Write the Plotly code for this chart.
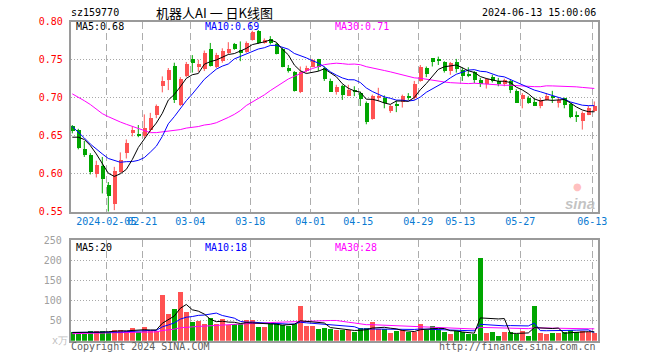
import plotly.graph_objects as go
import pandas as pd

# ---------------- data ----------------
tick_idx = [6, 12, 20, 30, 40, 48, 58, 65, 75, 87]
tick_text = ["2024-02-05", "02-21", "03-04", "03-18", "04-01", "04-15",
             "04-29", "05-13", "05-27", "06-13"]

opens = [0.663, 0.658, 0.633, 0.625, 0.600, 0.611, 0.585, 0.560, 0.603, 0.628,
         0.654, 0.651, 0.650, 0.658, 0.677, 0.716, 0.724, 0.742, 0.691, 0.729,
         0.751, 0.741, 0.738, 0.764, 0.741, 0.749, 0.759, 0.771, 0.763, 0.760,
         0.776, 0.788, 0.773, 0.778, 0.771, 0.764, 0.740, 0.734, 0.708, 0.735,
         0.741, 0.751, 0.740, 0.722, 0.708, 0.716, 0.703, 0.711, 0.706, 0.694,
         0.672, 0.700, 0.700, 0.683, 0.692, 0.695, 0.702, 0.700, 0.722, 0.740,
         0.752, 0.750, 0.747, 0.735, 0.748, 0.737, 0.731, 0.734, 0.724, 0.718,
         0.728, 0.722, 0.719, 0.722, 0.709, 0.699, 0.700, 0.695, 0.689, 0.697,
         0.703, 0.693, 0.700, 0.692, 0.677, 0.670, 0.678, 0.683]
highs = [0.664, 0.659, 0.643, 0.627, 0.617, 0.622, 0.589, 0.609, 0.628, 0.645,
         0.662, 0.664, 0.678, 0.680, 0.691, 0.728, 0.739, 0.746, 0.727, 0.747,
         0.756, 0.750, 0.762, 0.772, 0.759, 0.765, 0.773, 0.772, 0.774, 0.774,
         0.788, 0.789, 0.778, 0.781, 0.772, 0.766, 0.743, 0.735, 0.741, 0.742,
         0.751, 0.751, 0.741, 0.725, 0.717, 0.717, 0.717, 0.715, 0.708, 0.695,
         0.704, 0.713, 0.703, 0.691, 0.696, 0.704, 0.706, 0.722, 0.743, 0.741,
         0.752, 0.754, 0.748, 0.747, 0.751, 0.740, 0.740, 0.735, 0.726, 0.726,
         0.730, 0.726, 0.725, 0.724, 0.711, 0.706, 0.702, 0.700, 0.700, 0.706,
         0.709, 0.700, 0.700, 0.693, 0.682, 0.682, 0.689, 0.695]
lows = [0.653, 0.632, 0.622, 0.599, 0.595, 0.574, 0.550, 0.552, 0.601, 0.620,
        0.649, 0.648, 0.647, 0.655, 0.673, 0.707, 0.710, 0.693, 0.689, 0.727,
        0.733, 0.734, 0.735, 0.741, 0.739, 0.746, 0.757, 0.763, 0.748, 0.759,
        0.775, 0.771, 0.771, 0.770, 0.757, 0.740, 0.733, 0.708, 0.706, 0.733,
        0.740, 0.735, 0.722, 0.708, 0.704, 0.697, 0.702, 0.702, 0.689, 0.665,
        0.671, 0.695, 0.686, 0.680, 0.681, 0.687, 0.697, 0.697, 0.721, 0.727,
        0.741, 0.743, 0.733, 0.730, 0.733, 0.722, 0.727, 0.719, 0.714, 0.712,
        0.720, 0.715, 0.715, 0.706, 0.693, 0.686, 0.692, 0.689, 0.686, 0.696,
        0.693, 0.687, 0.686, 0.673, 0.668, 0.658, 0.677, 0.681]
closes = [0.657, 0.634, 0.625, 0.602, 0.612, 0.593, 0.571, 0.604, 0.619, 0.641,
          0.658, 0.650, 0.661, 0.674, 0.690, 0.722, 0.737, 0.698, 0.725, 0.745,
          0.746, 0.745, 0.759, 0.742, 0.756, 0.762, 0.765, 0.765, 0.759, 0.773,
          0.787, 0.772, 0.776, 0.772, 0.758, 0.741, 0.735, 0.709, 0.734, 0.740,
          0.750, 0.741, 0.725, 0.708, 0.714, 0.704, 0.711, 0.708, 0.699, 0.668,
          0.703, 0.702, 0.693, 0.690, 0.690, 0.703, 0.700, 0.718, 0.741, 0.731,
          0.747, 0.749, 0.735, 0.746, 0.738, 0.729, 0.729, 0.724, 0.719, 0.725,
          0.722, 0.718, 0.724, 0.711, 0.694, 0.704, 0.693, 0.690, 0.697, 0.702,
          0.700, 0.698, 0.691, 0.675, 0.675, 0.680, 0.687, 0.690]
# candle colour flag (1 = rising / red, 0 = falling / green)
rising = [0, 0, 0, 0, 1, 0, 0, 1, 1, 1, 1, 0, 1, 1, 1, 1, 1, 0, 1, 1,
          0, 1, 1, 0, 1, 1, 1, 0, 0, 1, 1, 0, 1, 0, 0, 0, 0, 0, 1, 1,
          1, 0, 0, 0, 1, 0, 1, 0, 0, 0, 1, 1, 0, 1, 0, 1, 0, 1, 1, 0,
          0, 0, 0, 1, 0, 0, 0, 0, 0, 1, 0, 0, 1, 0, 0, 1, 0, 0, 1, 1,
          0, 1, 0, 0, 0, 1, 1, 1]
volumes = [20, 15, 17, 24, 24, 24, 20, 26, 26, 24,
           30, 20, 34, 23, 24, 113, 66, 78, 120, 71,
           47, 49, 42, 56, 40, 53, 38, 40, 40, 50,
           50, 34, 34, 42, 43, 38, 37, 42, 85, 35,
           37, 29, 32, 28, 25, 25, 25, 22, 30, 32,
           46, 28, 28, 19, 24, 26, 20, 22, 42, 26,
           36, 25, 20, 15, 24, 22, 15, 15, 205, 18,
           20, 10, 20, 22, 16, 24, 12, 86, 18, 15,
           18, 18, 20, 26, 20, 24, 20, 18]

ma5_head = [0.648, 0.648, 0.645, 0.637]
ma10_head = [0.662, 0.655, 0.647, 0.639, 0.632, 0.626, 0.620, 0.617, 0.615]
ma30_head = [0.705, 0.701, 0.696, 0.691, 0.685, 0.679, 0.675, 0.671, 0.668, 0.665,
             0.662, 0.659, 0.656, 0.654, 0.654, 0.655, 0.656, 0.657, 0.658, 0.660,
             0.661, 0.662, 0.664, 0.665, 0.667, 0.670, 0.674, 0.678, 0.683]
vma5_head = [20, 20, 19, 20]
vma10_head = [20, 20, 20, 20, 20, 20, 20.5, 21, 21]
vma30_head = [17, 17, 17.5, 18, 18.5, 18.5, 19, 19.5, 20, 20,
              20.5, 21, 21, 21.5, 21.5, 24.8, 26.3, 28.2, 31.5, 33.2,
              34.1, 35.1, 35.8, 37, 37.7, 38.8, 39.4, 40.1, 40.8]

# ---------------- helpers ----------------
RED = "#FF5252"
GREEN = "#00A600"
n = len(closes)
idx = list(range(n))


def moving(series, window, head):
    s = pd.Series(series, dtype=float).rolling(window).mean().tolist()
    s[:len(head)] = head
    return s


ma5 = moving(closes, 5, ma5_head)
ma10 = moving(closes, 10, ma10_head)
ma30 = moving(closes, 30, ma30_head)
vma5 = moving(volumes, 5, vma5_head)
vma10 = moving(volumes, 10, vma10_head)
vma30 = moving(volumes, 30, vma30_head)

colors = [RED if r else GREEN for r in rising]
body_base = [min(o, c) for o, c in zip(opens, closes)]
body_h = [max(abs(c - o), 0.0014) for o, c in zip(opens, closes)]

fig = go.Figure()

# wicks
for flag, col in ((1, RED), (0, GREEN)):
    wx, wy = [], []
    for i in idx:
        if rising[i] == flag:
            wx += [i, i, None]
            wy += [lows[i], highs[i], None]
    fig.add_trace(go.Scatter(x=wx, y=wy, mode="lines", line=dict(color=col, width=1),
                             hoverinfo="skip", xaxis="x", yaxis="y"))

# bodies
fig.add_trace(go.Bar(x=idx, y=body_h, base=body_base, width=0.76,
                     marker=dict(color=colors, line=dict(width=0)),
                     xaxis="x", yaxis="y"))

for vals, col in ((ma30, "#FF00FF"), (ma10, "#0000FF"), (ma5, "#000000")):
    fig.add_trace(go.Scatter(x=idx, y=vals, mode="lines", line=dict(color=col, width=1),
                             xaxis="x", yaxis="y"))

# volume
fig.add_trace(go.Bar(x=idx, y=volumes, width=0.8,
                     marker=dict(color=colors, line=dict(width=0)),
                     xaxis="x2", yaxis="y2"))
for vals, col in ((vma30, "#FF00FF"), (vma10, "#0000FF"), (vma5, "#000000")):
    fig.add_trace(go.Scatter(x=idx, y=vals, mode="lines", line=dict(color=col, width=1),
                             xaxis="x2", yaxis="y2"))

W, H = 660, 360
left_px, right_px = 70.5, 597.5
x0 = (left_px - 72.3) / 6
x1 = (right_px - 72.3) / 6
MONO = "DejaVu Sans Mono"
grid_x = [t - 0.33 for t in tick_idx]

common_x = dict(range=[x0, x1], domain=[left_px / W, right_px / W],
                tickvals=grid_x, showgrid=True, gridcolor="#ADADAD", gridwidth=1.3,
                griddash="7px,4px", zeroline=False, showline=True, mirror=True,
                linecolor="#9A9A9A", linewidth=1.5, ticks="", fixedrange=True,
                automargin=False, tickangle=0)

fig.update_layout(
    width=W, height=H, margin=dict(l=0, r=0, t=0, b=0, autoexpand=False),
    paper_bgcolor="white", plot_bgcolor="white",
    showlegend=False, barmode="overlay", bargap=0,
    xaxis=dict(common_x, ticktext=tick_text, showticklabels=True,
               tickfont=dict(family=MONO, size=10, color="#0A7AD2"),
               ticklabelstandoff=0),
    yaxis=dict(domain=[1 - 211.67 / H, 1 - 21.67 / H], range=[0.55, 0.80],
               tickvals=[0.55, 0.60, 0.65, 0.70, 0.75, 0.80],
               ticktext=["0.55", "0.60", "0.65", "0.70", "0.75", "0.80"],
               tickfont=dict(family=MONO, size=10, color="#FF0000"),
               showgrid=True, gridcolor="#A8A8A8", gridwidth=1, griddash="1px,2px",
               zeroline=False, showline=True, mirror=True, linecolor="#9A9A9A",
               linewidth=1.5, ticks="", ticklabelstandoff=4, fixedrange=True,
               automargin=False),
    xaxis2=dict(common_x, anchor="y2", showticklabels=False),
    yaxis2=dict(domain=[1 - 340.7 / H, 1 - 240 / H], range=[-0.5, 250],
                anchor="x2",
                tickvals=[50, 100, 150, 200, 250],
                ticktext=["50", "100", "150", "200", "250"],
                tickfont=dict(family=MONO, size=10, color="#A0A0A0"),
                showgrid=True, gridcolor="#A8A8A8", gridwidth=1, griddash="1px,2px",
                zeroline=False, showline=True, mirror=True, linecolor="#9A9A9A",
                linewidth=1.5, ticks="", ticklabelstandoff=5, fixedrange=True,
                automargin=False),
)


def ann(text, x, y, color="#000000", size=10, anchor="left", family=MONO, **kw):
    fig.add_annotation(text=text, x=x / W, y=1 - y / H, xref="paper", yref="paper",
                       xanchor=anchor, yanchor="middle", showarrow=False,
                       font=dict(family=family, size=size, color=color), **kw)


ann("sz159770", 69, 13)
ann("机器人AI 一 日K线图", 214, 13, size=13, anchor="center", family="Noto Sans CJK SC")
ann("2024-06-13 15:00:06", 598, 13, anchor="right")
ann("MA5:" + f"{0.68:.2f}", 74, 27)
ann("MA10:" + f"{0.69:.2f}", 203, 27, color="#0000FF")
ann("MA30:" + f"{0.71:.2f}", 333, 27, color="#FF00FF")
ann("MA5:20", 74, 247)
ann("MA10:18", 203, 247, color="#0000FF")
ann("MA30:28", 333, 247, color="#FF00FF")
ann("x万", 50, 340, color="#C0C0C0")
ann("Copyright 2024 SINA.COM", 69, 346, color="#606060")
ann("http://finance.sina.com.cn", 598, 346, color="#606060", anchor="right")
ann("<b><i>sina</i></b>", 580, 203, color="rgba(185,185,185,0.85)", size=15,
    anchor="center", family="Liberation Sans")
ann("●", 577, 186, color="rgba(255,150,150,0.6)", size=10, anchor="center",
    family="DejaVu Sans")

fig.write_html("out.html", config={"displayModeBar": False},
               post_script="document.body.style.margin='0';"
                           "document.body.style.padding='0';")
